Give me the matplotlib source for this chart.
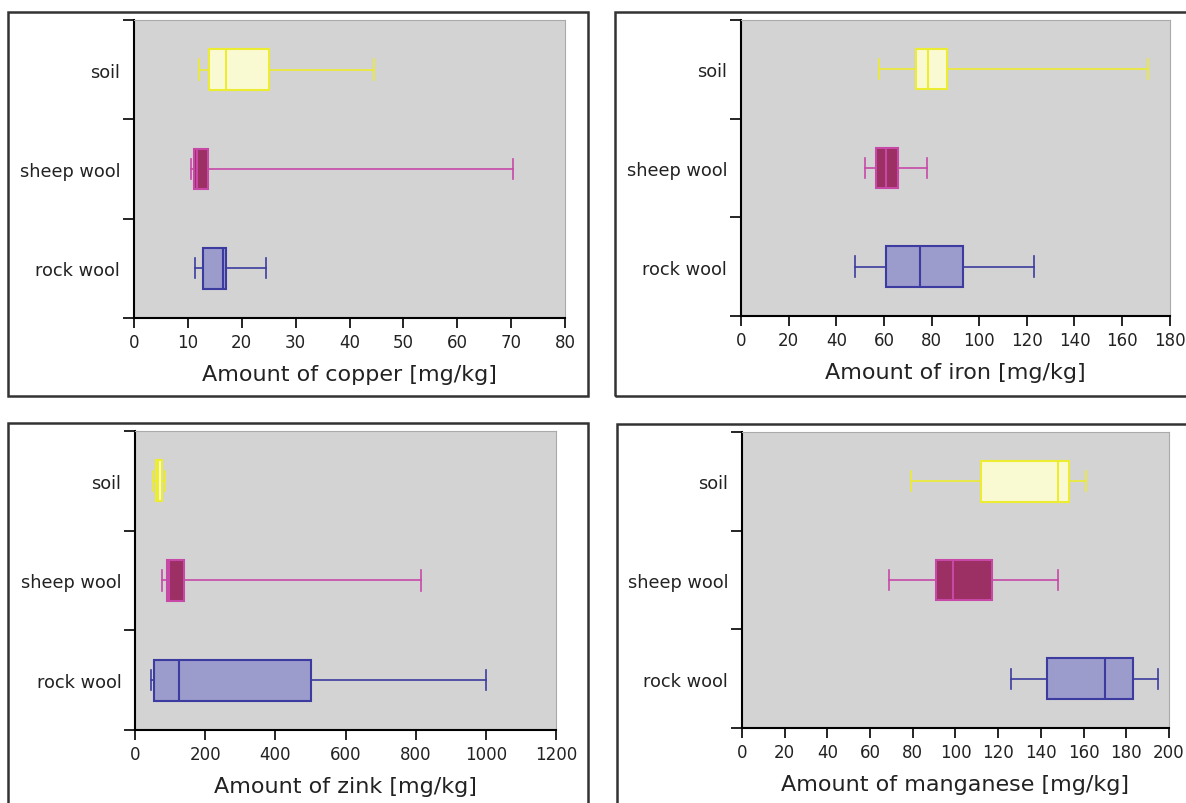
import matplotlib.pyplot as plt
from matplotlib.patches import Rectangle

plt.rcParams['font.family'] = ['DejaVu Sans']

categories = ['rock wool', 'sheep wool', 'soil']

# whisker low, Q1, median, Q3, whisker high  (order: rock wool, sheep wool, soil)
copper = [[11.3, 12.8, 16.5, 17.0, 24.5],
          [10.5, 11.2, 11.7, 13.8, 70.3],
          [12.0, 14.0, 17.0, 25.0, 44.5]]
iron = [[48, 61, 75, 93, 123],
        [52, 56.5, 61, 66, 78],
        [58, 73.5, 78.5, 86.5, 171]]
zink = [[45, 55, 125, 500, 1000],
        [75, 90, 95, 140, 815],
        [50, 60, 65, 75, 85]]
manganese = [[126, 143, 170, 183, 195],
             [69, 91, 99, 117, 148],
             [79, 112, 148, 153, 161]]

edge_colors = ['#3c3ca0', '#c848a8', '#ecec30']
fill_colors = ['#9b9bcc', '#9c2f63', '#fafad2']

panels = [
    (copper, 'Amount of copper [mg/kg]', 80, 10, [0.1130, 0.6033, 0.3634, 0.3706]),
    (iron, 'Amount of iron [mg/kg]', 180, 20, [0.6248, 0.6058, 0.3615, 0.3682]),
    (zink, 'Amount of zink [mg/kg]', 1200, 200, [0.1140, 0.0908, 0.3548, 0.3719]),
    (manganese, 'Amount of manganese [mg/kg]', 200, 20, [0.6256, 0.0933, 0.3600, 0.3682]),
]

frames = [(8, 13, 588, 397), (615, 13, 1200, 397), (8, 424, 588, 820), (617, 425, 1200, 820)]

fig = plt.figure(figsize=(11.86, 8.04), dpi=100)
W, H = 1186, 804
for x0, y0, x1, y1 in frames:
    fig.patches.append(Rectangle((x0 / W, 1 - y1 / H), (x1 - x0) / W, (y1 - y0) / H,
                                 transform=fig.transFigure, fill=False,
                                 edgecolor='#333333', linewidth=1.8))

for data, label, xmax, step, pos in panels:
    ax = fig.add_axes(pos)
    ax.set_facecolor('#d3d3d3')
    stats = []
    for vals in data:
        stats.append({'whislo': vals[0], 'q1': vals[1], 'med': vals[2],
                      'q3': vals[3], 'whishi': vals[4], 'fliers': []})
    positions = [0.5, 1.5, 2.5]
    art = ax.bxp(stats, positions=positions, vert=False, widths=0.41,
                 patch_artist=True, showfliers=False, manage_ticks=False)
    for i in range(3):
        art['boxes'][i].set_facecolor(fill_colors[i])
        art['boxes'][i].set_edgecolor(edge_colors[i])
        art['boxes'][i].set_linewidth(1.5)
        art['medians'][i].set_color(edge_colors[i])
        art['medians'][i].set_linewidth(1.5)
        for ln in art['whiskers'][2 * i:2 * i + 2] + art['caps'][2 * i:2 * i + 2]:
            ln.set_color(edge_colors[i])
            ln.set_linewidth(1.2)
    ax.set_ylim(0, 3)
    ax.set_xlim(0, xmax)
    ax.set_xticks(range(0, xmax + 1, step))
    ax.set_yticks([0, 1, 2, 3])
    ax.set_yticklabels([])
    ax.set_yticks(positions, minor=True)
    ax.set_yticklabels(categories, minor=True)
    ax.tick_params(axis='y', which='major', length=8, width=1.2, direction='out')
    ax.tick_params(axis='y', which='minor', length=0, labelsize=12.8, pad=10, labelcolor='#222222')
    ax.tick_params(axis='x', length=7, width=1.2, labelsize=12, labelcolor='#222222')
    ax.set_xlabel(label, fontsize=16, color='#222222', labelpad=10)
    for s in ['top', 'right']:
        ax.spines[s].set_color('#aaaaaa')
    for s in ['left', 'bottom']:
        ax.spines[s].set_linewidth(1.5)

fig.savefig('out.png', dpi=100)
